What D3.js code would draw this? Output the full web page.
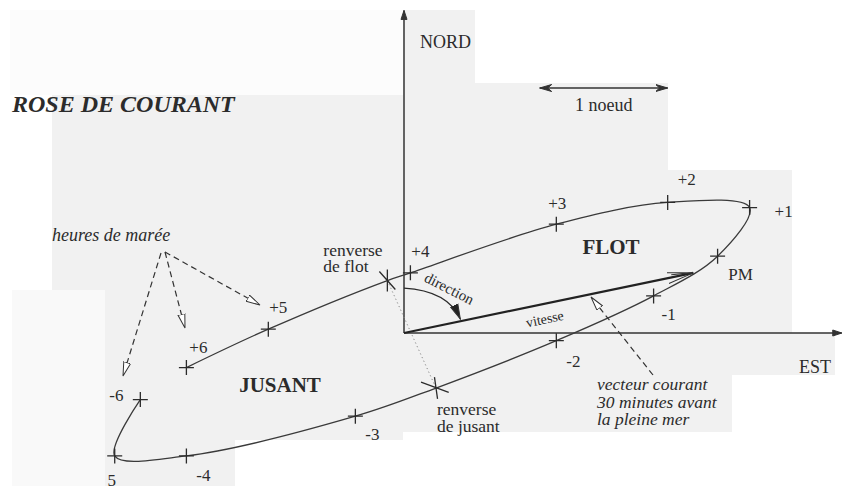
<!DOCTYPE html>
<html>
<head>
<meta charset="utf-8">
<script src="https://cdn.jsdelivr.net/npm/d3@7"></script>
<style>
body {margin: 0; background: #fff;}
svg {display: block;}
text {font-family: "Liberation Serif", "Times New Roman", serif; fill: #2b2b2b;}
</style>
</head>
<body>
<div id="rose"></div>
<script>
// heures de maree : bout du vecteur courant, en noeuds (est, nord)
var hourLabels = ["-6", "5", "-4", "-3", "-2", "-1", "PM", "+1", "+2", "+3", "+4", "+5", "+6"];
var hourTimes = [-6, -5, -4, -3, -2, -1, 0, 1, 2, 3, 4, 5, 6];
var hourEast = [-2.06, -2.26, -1.70, -0.38, 1.19, 1.95, 2.45, 2.70, 2.06, 1.19, 0.05, -1.06, -1.70];
var hourNorth = [-0.52, -0.96, -0.96, -0.65, -0.06, 0.29, 0.60, 0.98, 1.02, 0.85, 0.47, 0.03, -0.27];

// renverses
var turnLabels = [["renverse", "de jusant"], ["renverse", "de flot"]];
var turnTimes = [-2.6, 4.15];
var turnEast = [0.25, -0.13];
var turnNorth = [-0.43, 0.41];

// vecteur courant 30 minutes avant la pleine mer
var vectorTime = -0.5;
var vectorEast = 2.26;
var vectorNorth = 0.47;

var eastMax = 3.42;
var northMax = 2.52;
var scaleKnots = [1.06, 2.06];

width = 843
height = 486

// placement of the hour labels (px from the tick)
var labelOffset = {
  "+6": [12, -15], "+5": [10, -16], "+4": [10, -16], "+3": [1, -15], "+2": [19, -17],
  "+1": [34, 9], "PM": [23, 24], "-1": [15, 24], "-2": [17, 26], "-3": [17, 24],
  "-4": [17, 25], "5": [-3, 30], "-6": [-24, 1]
}

var x = d3.scaleLinear().domain([0, 1]).range([404, 532])
var y = d3.scaleLinear().domain([0, 1]).range([333, 205])

var svg = d3.select('#rose').append('svg').attr('width', width).attr('height', height)

// scan paper patches
var patches = [
  [10, 10, 393, 85, '#fcfcfc'], [52, 95, 351, 205, '#f1f1f1'], [12, 290, 93, 196, '#f9f9f9'],
  [105, 290, 298, 150, '#f1f1f1'], [105, 440, 130, 46, '#f1f1f1'], [403, 10, 72, 323, '#f1f1f1'],
  [475, 83, 193, 250, '#f1f1f1'], [668, 170, 124, 163, '#f1f1f1'], [403, 333, 432, 42, '#f1f1f1'],
  [403, 375, 329, 57, '#f1f1f1']
]
svg.append('g').selectAll('rect').data(patches).join('rect')
  .attr('x', d => d[0]).attr('y', d => d[1]).attr('width', d => d[2]).attr('height', d => d[3])
  .attr('fill', d => d[4])

var defs = svg.append('defs')
function marker(id, path, fill, w, h, orient) {
  defs.append('marker').attr('id', id)
    .attr('viewBox', (-w) + ' ' + (-h / 2) + ' ' + (w + 2) + ' ' + h)
    .attr('refX', 0).attr('refY', 0)
    .attr('markerUnits', 'userSpaceOnUse')
    .attr('markerWidth', w + 2).attr('markerHeight', h)
    .attr('orient', orient || 'auto')
    .append('path').attr('d', path)
    .attr('fill', fill).attr('stroke', '#333').attr('stroke-width', 1)
}
marker('axisHead', 'M-9,-3L0,0L-9,3Z', '#333', 10, 8)
marker('scaleHead', 'M-12,-3.5L0,0L-12,3.5L-8,0Z', '#333', 12, 8, 'auto-start-reverse')
marker('vecHead', 'M-26,-5.5L0,0L-26,5.5M-22,-2.5L0,0', 'none', 26, 14)
marker('openHead', 'M-14,-3.5L0,0L-14,3.5Z', '#fff', 14, 9)
marker('dirHead', 'M-15,-4L0,0L-15,4Z', '#222', 15, 10)

// axes
svg.append('line').attr('x1', x(0)).attr('y1', y(0)).attr('x2', x(0)).attr('y2', y(northMax))
  .attr('stroke', '#333').attr('stroke-width', 1.5).attr('marker-end', 'url(#axisHead)')
svg.append('line').attr('x1', x(0)).attr('y1', y(0)).attr('x2', x(eastMax)).attr('y2', y(0))
  .attr('stroke', '#333').attr('stroke-width', 1.5).attr('marker-end', 'url(#axisHead)')

svg.append('text').attr('x', x(0) + 16).attr('y', 48).attr('font-size', 18).text('NORD')
svg.append('text').attr('x', 799).attr('y', y(0) + 40).attr('font-size', 18).text('EST')

// echelle 1 noeud
svg.append('line').attr('x1', x(scaleKnots[0])).attr('y1', 88).attr('x2', x(scaleKnots[1])).attr('y2', 88)
  .attr('stroke', '#333').attr('stroke-width', 1.3)
  .attr('marker-start', 'url(#scaleHead)').attr('marker-end', 'url(#scaleHead)')
svg.append('text').attr('x', (x(scaleKnots[0]) + x(scaleKnots[1])) / 2).attr('y', 111)
  .attr('text-anchor', 'middle').attr('font-size', 18).text('1 noeud')

// the tidal track
var track = []
hourLabels.forEach(function(l, i) { track.push({t: hourTimes[i], e: hourEast[i], n: hourNorth[i]}) })
turnLabels.forEach(function(l, i) { track.push({t: turnTimes[i], e: turnEast[i], n: turnNorth[i]}) })
track.sort((a, b) => a.t - b.t)

var line = d3.line().x(d => x(d.e)).y(d => y(d.n)).curve(d3.curveCatmullRom.alpha(0.5))
svg.append('path').attr('d', line(track)).attr('fill', 'none')
  .attr('stroke', '#3a3a3a').attr('stroke-width', 1.3)

// renverse link
svg.append('line').attr('x1', x(turnEast[1])).attr('y1', y(turnNorth[1]))
  .attr('x2', x(turnEast[0])).attr('y2', y(turnNorth[0]))
  .attr('stroke', '#888').attr('stroke-width', 1).attr('stroke-dasharray', '1.2,2.8')

// ticks
var hours = hourLabels.map(function(l, i) { return {label: l, e: hourEast[i], n: hourNorth[i]} })
var tick = svg.append('g').selectAll('g').data(hours).join('g')
  .attr('transform', d => 'translate(' + x(d.e) + ',' + y(d.n) + ')')
tick.append('path').attr('d', 'M-7.5,0H7.5M0,-7.5V7.5').attr('stroke', '#2b2b2b').attr('stroke-width', 1.3)
tick.append('text').attr('x', d => labelOffset[d.label][0]).attr('y', d => labelOffset[d.label][1])
  .attr('text-anchor', 'middle').attr('font-size', 17).text(d => d.label)

var turns = turnLabels.map(function(l, i) { return {label: l, e: turnEast[i], n: turnNorth[i]} })
svg.append('g').selectAll('path').data(turns).join('path')
  .attr('transform', (d, i) => 'translate(' + x(d.e) + ',' + y(d.n) + ') rotate(' + (i == 0 ? -8 : 0) + ')')
  .attr('d', (d, i) => i == 0 ? 'M-14,-8L12,6M0,-11V11' : 'M-8,-9L8,9M0,-11V11')
  .attr('stroke', '#2b2b2b').attr('stroke-width', 1.3).attr('fill', 'none')

var turnText = svg.append('g').selectAll('text').data(turns).join('text')
  .attr('font-size', 17.5)
  .attr('x', (d, i) => i == 0 ? x(d.e) + 1 : x(d.e) - 64)
  .attr('y', (d, i) => i == 0 ? y(d.n) + 27 : y(d.n) - 25)
turnText.selectAll('tspan').data(d => d.label).join('tspan')
  .attr('x', function() { return d3.select(this.parentNode).attr('x') })
  .attr('dy', (d, i) => i == 0 ? 0 : 16.5).text(d => d)

// vecteur courant
svg.append('line').attr('x1', x(0)).attr('y1', y(0)).attr('x2', x(vectorEast)).attr('y2', y(vectorNorth))
  .attr('stroke', '#222').attr('stroke-width', 2.2).attr('marker-end', 'url(#vecHead)')
var vecAngle = Math.atan2(y(vectorNorth) - y(0), x(vectorEast) - x(0)) * 180 / Math.PI
svg.append('text').attr('transform', 'translate(' + x(vectorEast * 0.49) + ',' + (y(vectorNorth * 0.49) + 20) + ') rotate(' + vecAngle + ')')
  .attr('text-anchor', 'middle').attr('font-size', 14).text('vitesse')

// direction arc
var dirStart = [0, 0.35], dirCtrl = [0.34, 0.33], dirEnd = [0.44, 0.11]
svg.append('path')
  .attr('d', 'M' + x(dirStart[0]) + ',' + y(dirStart[1]) + 'Q' + x(dirCtrl[0]) + ',' + y(dirCtrl[1]) + ' ' + x(dirEnd[0]) + ',' + y(dirEnd[1]))
  .attr('fill', 'none').attr('stroke', '#2b2b2b').attr('stroke-width', 1.3).attr('marker-end', 'url(#dirHead)')
svg.append('text').attr('transform', 'translate(447,293) rotate(27)')
  .attr('text-anchor', 'middle').attr('font-size', 15).text('direction')

// annotations
svg.append('text').attr('x', 12).attr('y', 112).attr('font-size', 24)
  .attr('font-weight', 'bold').attr('font-style', 'italic').text('ROSE DE COURANT')

svg.append('text').attr('x', 52).attr('y', 241).attr('font-size', 18)
  .attr('font-style', 'italic').text('heures de marée')

var pointers = [[165, 252, 260, 305], [165, 252, 185, 328], [161, 253, 123, 376]]
svg.append('g').selectAll('line').data(pointers).join('line')
  .attr('x1', d => d[0]).attr('y1', d => d[1]).attr('x2', d => d[2]).attr('y2', d => d[3])
  .attr('stroke', '#333').attr('stroke-width', 1.2).attr('stroke-dasharray', '6,4')
  .attr('marker-end', 'url(#openHead)')

svg.append('line').attr('x1', 653).attr('y1', 375).attr('x2', 591).attr('y2', 297)
  .attr('stroke', '#333').attr('stroke-width', 1.2).attr('stroke-dasharray', '6,4')
  .attr('marker-end', 'url(#openHead)')

var vecNote = ['vecteur courant', '30 minutes avant', 'la pleine mer']
svg.append('g').selectAll('text').data(vecNote).join('text')
  .attr('x', 597).attr('y', (d, i) => 390 + i * 17.5).attr('font-size', 17.5)
  .attr('font-style', 'italic').text(d => d)

svg.append('text').attr('x', 611).attr('y', 254).attr('text-anchor', 'middle')
  .attr('font-size', 21).attr('font-weight', 'bold').text('FLOT')
svg.append('text').attr('x', 280).attr('y', 392).attr('text-anchor', 'middle')
  .attr('font-size', 21).attr('font-weight', 'bold').text('JUSANT')
</script>
</body>
</html>
